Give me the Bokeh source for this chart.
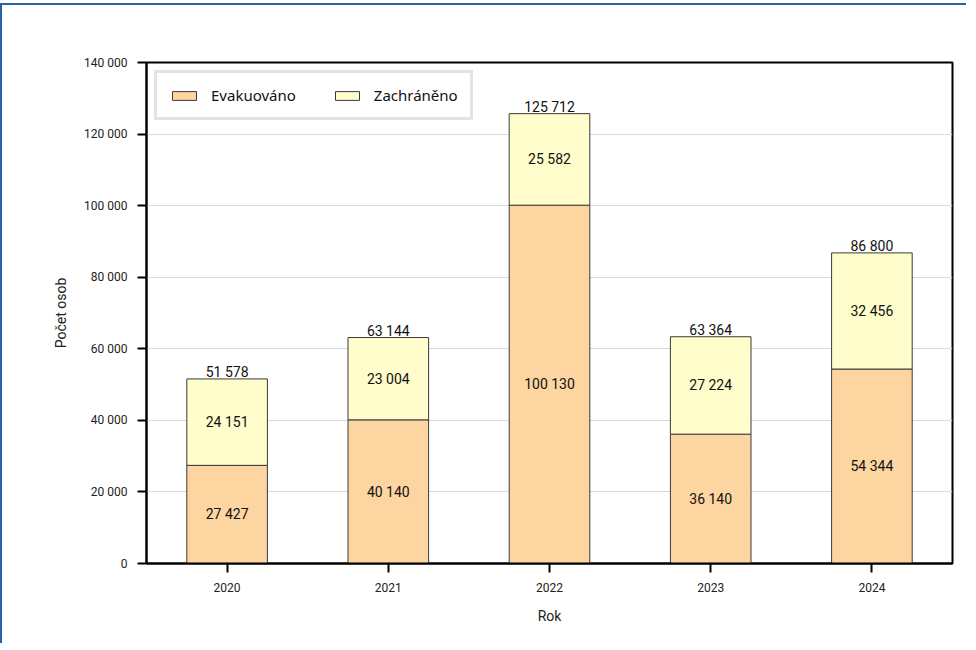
from bokeh.plotting import figure
from bokeh.models import ColumnDataSource, Range1d, FactorRange, CustomJSTickFormatter, FixedTicker
from bokeh.core.properties import value
from bokeh.embed import file_html
from bokeh.resources import INLINE

years = ["2020", "2021", "2022", "2023", "2024"]
evakuovano = [27427, 40140, 100130, 36140, 54344]
zachraneno = [24151, 23004, 25582, 27224, 32456]
y_ticks = [0, 20000, 40000, 60000, 80000, 100000, 120000, 140000]

def fmt(n):
    return format(n, ",").replace(",", " ")

totals = [a + b for a, b in zip(evakuovano, zachraneno)]
src = ColumnDataSource(dict(
    year=years, evak=evakuovano, zach=zachraneno,
    evak_mid=[a / 2 for a in evakuovano],
    zach_mid=[a + b / 2 for a, b in zip(evakuovano, zachraneno)],
    total=totals,
    evak_lbl=[fmt(v) for v in evakuovano],
    zach_lbl=[fmt(v) for v in zachraneno],
    total_lbl=[fmt(v) for v in totals],
))

COND = "Roboto"

p = figure(x_range=FactorRange(*years), y_range=Range1d(0, 140000),
           width=966, height=640, output_backend="svg", toolbar_location=None,
           min_border_left=144, min_border_top=57, min_border_right=16, min_border_bottom=82)

r = p.vbar_stack(["evak", "zach"], x="year", width=0.5, source=src,
                 color=["#FDD5A0", "#FEFDCB"], line_color="#3a3a3a", line_width=1,
                 legend_label=["Evakuováno", "Zachráněno"])

p.text(x="year", y="evak_mid", text="evak_lbl", source=src, text_align="center",
       text_baseline="middle", text_font=value(COND), text_font_size="14px", text_color="#111111")
p.text(x="year", y="zach_mid", text="zach_lbl", source=src, text_align="center",
       text_baseline="middle", text_font=value(COND), text_font_size="14px", text_color="#111111")
p.text(x="year", y="total", text="total_lbl", source=src, text_align="center",
       text_baseline="bottom", y_offset=1, text_font=value(COND), text_font_size="14px",
       text_color="#111111")

p.outline_line_color = "black"
p.outline_line_width = 2
p.xgrid.grid_line_color = None
p.ygrid.grid_line_color = "#d8d8d8"
p.ygrid.grid_line_width = 1

p.yaxis.ticker = FixedTicker(ticks=y_ticks)
p.yaxis.formatter = CustomJSTickFormatter(code="return tick.toString().replace(/\\B(?=(\\d{3})+(?!\\d))/g, ' ');")
for ax in (p.xaxis, p.yaxis):
    ax.axis_line_color = "black"
    ax.axis_line_width = 2
    ax.major_tick_line_color = "black"
    ax.major_tick_line_width = 2
    ax.major_tick_out = 9
    ax.major_tick_in = 0
    ax.minor_tick_line_color = None
    ax.major_label_text_font = COND
    ax.major_label_text_font_size = "12px"
    ax.major_label_text_color = "#222222"
    ax.axis_label_text_font = COND
    ax.axis_label_text_font_size = "14px"
    ax.axis_label_text_font_style = "normal"
    ax.axis_label_text_color = "#222222"
p.xaxis.major_label_standoff = 10
p.yaxis.major_label_standoff = 10
p.xaxis.axis_label = "Rok"
p.yaxis.axis_label = "Počet osob"
p.xaxis.axis_label_standoff = 13
p.yaxis.axis_label_standoff = 12

p.legend.location = "top_left"
p.legend.orientation = "horizontal"
p.legend.margin = 8
p.legend.padding = 12
p.legend.spacing = 36
p.legend.label_standoff = 12
p.legend.glyph_width = 30
p.legend.glyph_height = 11
p.legend.label_text_font = "Noto Sans"
p.legend.label_text_font_size = "15px"
p.legend.label_text_color = "#111111"
p.legend.border_line_color = "#c8c8c8"
p.legend.border_line_width = 3
p.legend.background_fill_alpha = 1

p.styles = {"border-top": "2px solid #2a62a6", "border-left": "2px solid #2a62a6", "margin-top": "3px"}

open("out.html", "w").write(file_html(p, INLINE))
